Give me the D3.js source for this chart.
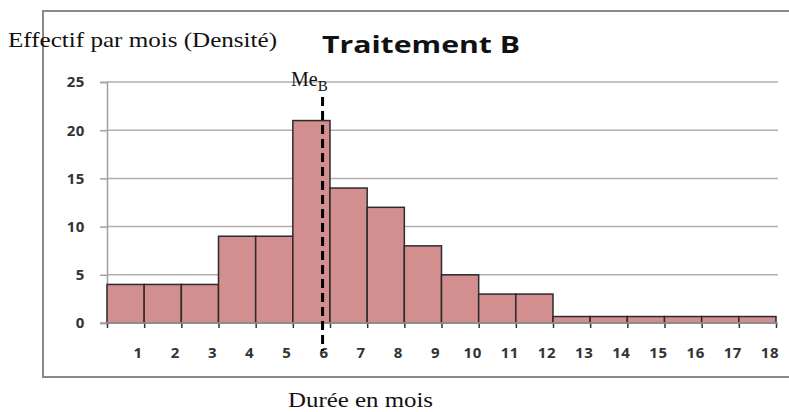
<!DOCTYPE html>
<html>
<head>
<meta charset="utf-8">
<script src="https://cdn.jsdelivr.net/npm/d3@7"></script>
<style>
  html, body { margin: 0; padding: 0; background: #fff; }
  svg { display: block; }
</style>
</head>
<body>
<svg id="chart" width="789" height="412"></svg>
<script>
// Durée (mois) : chaque barre couvre l'intervalle [mois-1, mois]
const mois = [1, 2, 3, 4, 5, 6, 7, 8, 9, 10, 11, 12, 13, 14, 15, 16, 17, 18];
const effectifs = [4, 4, 4, 9, 9, 21, 14, 12, 8, 5, 3, 3, 0.67, 0.67, 0.67, 0.67, 0.67, 0.67];
const yTicks = [0, 5, 10, 15, 20, 25];
const mediane = 5.8;
const titre = "Traitement B";
const titreY = "Effectif par mois (Densité)";
const titreX = "Durée en mois";

const svg = d3.select("#chart");

const x = d3.scaleLinear().domain([0, 18]).range([107, 776]);
const y = d3.scaleLinear().domain([0, 25]).range([323, 82]);

// cadre de la zone graphique
svg.append("path")
  .attr("d", "M 800 11 L 43 11 L 43 377 L 800 377")
  .attr("fill", "none")
  .attr("stroke", "#8a8a8a")
  .attr("stroke-width", 2);

// quadrillage horizontal
svg.append("g")
  .selectAll("line")
  .data(yTicks.filter(d => d > 0))
  .join("line")
  .attr("x1", x(0)).attr("x2", 778)
  .attr("y1", d => y(d)).attr("y2", d => y(d))
  .attr("stroke", "#b0b0b0")
  .attr("stroke-width", 1.5);

const tickFont = (sel) => sel
  .attr("font-family", "'Open Sans', sans-serif")
  .attr("font-weight", 700)
  .attr("font-size", 15)
  .attr("letter-spacing", 0.6)
  .attr("fill", "#333");

// axe vertical
const yAxis = d3.axisLeft(y).tickValues(yTicks).tickSize(7).tickPadding(15);
const gy = svg.append("g").attr("transform", `translate(${x(0)},0)`).call(yAxis);
gy.select(".domain").attr("stroke", "#a0a0a0").attr("stroke-width", 1.5);
gy.selectAll(".tick line").attr("stroke", "#a0a0a0").attr("stroke-width", 1.5);
gy.selectAll(".tick text").call(tickFont);

// barres
svg.append("g")
  .selectAll("rect")
  .data(mois)
  .join("rect")
  .attr("x", (d) => x(d - 1))
  .attr("width", (d) => x(d) - x(d - 1))
  .attr("y", (d, i) => y(effectifs[i]))
  .attr("height", (d, i) => y(0) - y(effectifs[i]))
  .attr("fill", "#d38f8f")
  .attr("stroke", "#2b2b2b")
  .attr("stroke-width", 1.5);

// axe horizontal
const xAxis = d3.axisBottom(x).tickValues([0].concat(mois)).tickSize(5).tickFormat("");
const gx = svg.append("g").attr("transform", `translate(0,${y(0)})`).call(xAxis);
gx.select(".domain").remove();
gx.append("line")
  .attr("x1", 100).attr("x2", 778)
  .attr("stroke", "#a0a0a0").attr("stroke-width", 1.5);
gx.selectAll(".tick line").attr("stroke", "#333").attr("stroke-width", 1.5);

// étiquettes des mois
svg.append("g")
  .selectAll("text")
  .data(mois)
  .join("text")
  .attr("x", d => x(d) - 6)
  .attr("y", 358)
  .attr("text-anchor", "middle")
  .call(tickFont)
  .text(d => d);

// médiane
svg.append("line")
  .attr("x1", x(mediane)).attr("x2", x(mediane))
  .attr("y1", 97).attr("y2", 351)
  .attr("stroke", "#000")
  .attr("stroke-width", 3)
  .attr("stroke-dasharray", "9,5");

const me = svg.append("text")
  .attr("x", 291).attr("y", 86)
  .attr("font-family", "'Liberation Serif', serif")
  .attr("font-size", 20)
  .attr("fill", "#111");
me.append("tspan").text("Me");
me.append("tspan").attr("dy", 5).attr("font-size", 15).text("B");

// titres
svg.append("text")
  .attr("x", 322).attr("y", 53)
  .attr("font-family", "'Open Sans', sans-serif")
  .attr("font-weight", 700)
  .attr("font-size", 24)
  .attr("textLength", 198)
  .attr("lengthAdjust", "spacingAndGlyphs")
  .attr("fill", "#111")
  .text(titre);

svg.append("text")
  .attr("x", 8).attr("y", 47)
  .attr("font-family", "'Liberation Serif', serif")
  .attr("font-size", 21)
  .attr("textLength", 269)
  .attr("lengthAdjust", "spacingAndGlyphs")
  .attr("fill", "#111")
  .text(titreY);

svg.append("text")
  .attr("x", 288).attr("y", 407)
  .attr("font-family", "'Liberation Serif', serif")
  .attr("font-size", 20)
  .attr("textLength", 145)
  .attr("lengthAdjust", "spacingAndGlyphs")
  .attr("fill", "#111")
  .text(titreX);
</script>
</body>
</html>
